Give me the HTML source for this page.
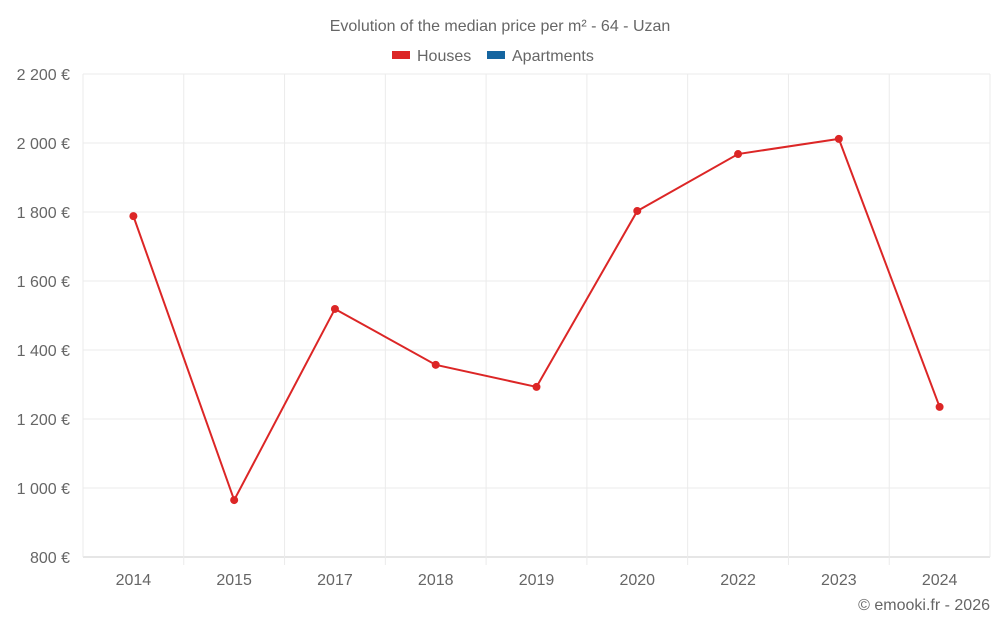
<!DOCTYPE html>
<html><head><meta charset="utf-8"><style>
html,body{margin:0;padding:0;background:#fff;}
svg{display:block;font-family:"Liberation Sans",sans-serif;}
</style></head><body>
<svg id="chart" width="1000" height="625">
<text x="500" y="31" text-anchor="middle" font-size="16" fill="#666">Evolution of the median price per m² - 64 - Uzan</text>
<g>
<g><rect x="392" y="51" width="18" height="8" fill="#dc2626"/><text x="417" y="61" font-size="16" fill="#666">Houses</text></g>
<g><rect x="487" y="51" width="18" height="8" fill="#1565a0"/><text x="512" y="61" font-size="16" fill="#666">Apartments</text></g>
</g>
<g id="grid"></g><g id="axes"></g><g id="series"></g>
<text x="990" y="610" text-anchor="end" font-size="16" fill="#666">© emooki.fr - 2026</text>
</svg>
<script>
const categories=["2014","2015","2017","2018","2019","2020","2022","2023","2024"];
const housesValues=[1788,965,1519,1357,1293,1803,1968,2012,1235];
const yTicks=[800,1000,1200,1400,1600,1800,2000,2200];
const yTickLabels=["800 €","1 000 €","1 200 €","1 400 €","1 600 €","1 800 €","2 000 €","2 200 €"];
const NS="http://www.w3.org/2000/svg";
const L=83,R=990,T=74,B=557,yMin=800,yMax=2200;
const band=(R-L)/categories.length;
const xs=i=>L+band*(i+0.5);
const ys=v=>B-(v-yMin)/(yMax-yMin)*(B-T);
function mk(tag,attrs,parent){const e=document.createElementNS(NS,tag);for(const k in attrs)e.setAttribute(k,attrs[k]);parent.appendChild(e);return e;}
const grid=document.getElementById('grid'),axes=document.getElementById('axes'),series=document.getElementById('series');
yTicks.forEach((v,i)=>{
 const g=mk('line',{x1:L,x2:R,y1:ys(v),y2:ys(v),stroke:i===0?'#ccc':'#ebebeb','stroke-width':1},grid);
 
 
 const t=mk('text',{x:70,y:ys(v)+6,'text-anchor':'end','font-size':16,fill:'#666'},axes);
 t.textContent=yTickLabels[i];
 
 
});
for(let i=0;i<=categories.length;i++){
 const x=L+band*i;
 const g=mk('line',{x1:x,x2:x,y1:T,y2:B+(i===0||i===categories.length?0:8),stroke:'#ebebeb','stroke-width':1},grid);
 
 
}
categories.forEach((c,i)=>{
 const t=mk('text',{x:xs(i),y:585,'text-anchor':'middle','font-size':16,fill:'#666'},axes);
 t.textContent=c;
 
 
});
const pts=housesValues.map((v,i)=>xs(i)+','+ys(v)).join(' ');
const line=mk('polyline',{points:pts,fill:'none',stroke:'#dc2626','stroke-width':2},series);


housesValues.forEach((v,i)=>{
 const c=mk('circle',{cx:xs(i),cy:ys(v),r:4,fill:'#dc2626'},series);
 
 
});
</script>
</body></html>
